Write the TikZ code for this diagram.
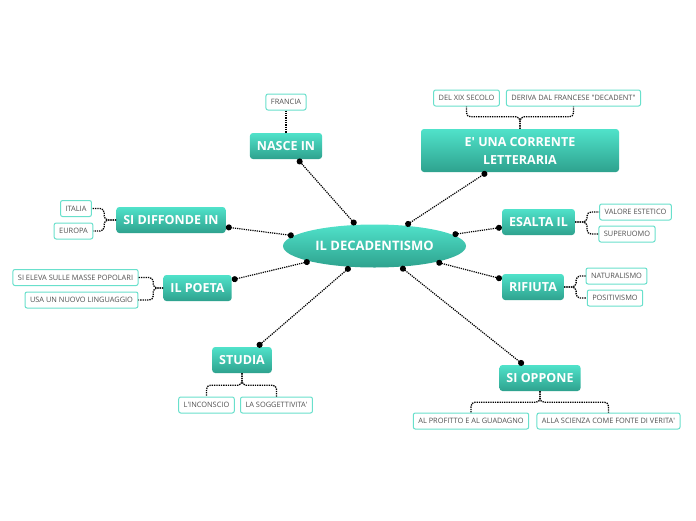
\documentclass[tikz,border=0pt]{standalone}
\usepackage{fontspec}
\setmainfont{Open Sans}
\usepackage{tikz}
\usetikzlibrary{shapes.geometric, arrows.meta}
\definecolor{tealtop}{RGB}{80,226,202}
\definecolor{tealbot}{RGB}{46,162,142}
\definecolor{leafline}{RGB}{105,224,204}
\definecolor{leaftext}{RGB}{80,80,80}
\newcommand{\apo}{\textquotesingle}

\begin{document}
\begin{tikzpicture}[x=1pt, y=-1pt,
  font=\fontsize{7.4}{9}\selectfont,
  topic/.style={ellipse, top color=tealtop, bottom color=tealbot, text=white,
                font=\fontsize{13}{15}\selectfont\bfseries,
                minimum width=183pt, minimum height=43pt},
  branch/.style={rectangle, rounded corners=3pt, top color=tealtop, bottom color=tealbot,
                 text=white, font=\fontsize{12.5}{18}\selectfont\bfseries,
                 minimum height=26pt, inner xsep=7pt, align=center},
  leaf/.style={rectangle, rounded corners=2pt, draw=leafline, line width=1pt, fill=white,
               text=leaftext, minimum height=16pt, inner xsep=5pt, inner ysep=0pt},
  link/.style={densely dotted, line width=1.2pt, {Circle[length=6pt]}-{Circle[length=6pt]}},
  brk/.style={densely dotted, line width=1.3pt, rounded corners=4pt}]

  \fill[white] (0,0) rectangle (696,520);
  \useasboundingbox (0,0) rectangle (696,520);

  % centre
  \node[topic] (center) at (374.5,246) {IL DECADENTISMO};

  % branches
  \node[branch] (nasce) at (286,146) {NASCE IN};
  \node[branch, minimum width=198pt, minimum height=43pt] (corrente) at (520,150.5)
        {E\apo{} UNA CORRENTE\\LETTERARIA};
  \node[branch] (esalta) at (538.5,222) {ESALTA IL};
  \node[branch] (rifiuta) at (533,287) {RIFIUTA};
  \node[branch] (oppone) at (540,378) {SI OPPONE};
  \node[branch] (studia) at (242,360) {STUDIA};
  \node[branch] (poeta) at (197.5,288) {IL POETA};
  \node[branch] (diffonde) at (171,220) {SI DIFFONDE IN};

  \draw[link] (center) -- (nasce);
  \draw[link] (center) -- (corrente);
  \draw[link] (center) -- (esalta);
  \draw[link] (center) -- (rifiuta);
  \draw[link] (center) -- (oppone);
  \draw[link] (center) -- (studia);
  \draw[link] (center) -- (poeta);
  \draw[link] (center) -- (diffonde);

  % leaves
  \node[leaf] (francia) at (286,102) {FRANCIA};
  \node[leaf] (xix) at (466.5,98) {DEL XIX SECOLO};
  \node[leaf] (deriva) at (573.5,98) {DERIVA DAL FRANCESE \textquotedbl DECADENT\textquotedbl};
  \node[leaf] (valore) at (635.5,212) {VALORE ESTETICO};
  \node[leaf] (superuomo) at (627,234) {SUPERUOMO};
  \node[leaf] (naturalismo) at (616.5,276) {NATURALISMO};
  \node[leaf] (positivismo) at (615,298) {POSITIVISMO};
  \node[leaf] (profitto) at (471,421) {AL PROFITTO E AL GUADAGNO};
  \node[leaf] (scienza) at (608.5,421) {ALLA SCIENZA COME FONTE DI VERITA\apo};
  \node[leaf] (inconscio) at (206.5,405) {L\apo INCONSCIO};
  \node[leaf] (soggett) at (276.5,405) {LA SOGGETTIVITA\apo};
  \node[leaf] (eleva) at (75.5,277.5) {SI ELEVA SULLE MASSE POPOLARI};
  \node[leaf] (linguaggio) at (81.5,300) {USA UN NUOVO LINGUAGGIO};
  \node[leaf] (italia) at (76,208.5) {ITALIA};
  \node[leaf] (europa) at (73.5,231) {EUROPA};

  \draw[brk] (francia) -- (nasce);
  \draw[brk] (corrente.north) -- ++(0,-12) -| (xix.south);
  \draw[brk] (corrente.north) -- ++(0,-12) -| (deriva.south);
  \draw[brk] (esalta.east) -- ++(12,0) |- (valore.west);
  \draw[brk] (esalta.east) -- ++(12,0) |- (superuomo.west);
  \draw[brk] (rifiuta.east) -- ++(12,0) |- (naturalismo.west);
  \draw[brk] (rifiuta.east) -- ++(12,0) |- (positivismo.west);
  \draw[brk] (oppone.south) -- ++(0,11) -| (profitto.north);
  \draw[brk] (oppone.south) -- ++(0,11) -| (scienza.north);
  \draw[brk] (studia.south) -- ++(0,12) -| (inconscio.north);
  \draw[brk] (studia.south) -- ++(0,12) -| (soggett.north);
  \draw[brk] (poeta.west) -- ++(-10,0) |- (eleva.east);
  \draw[brk] (poeta.west) -- ++(-10,0) |- (linguaggio.east);
  \draw[brk] (diffonde.west) -- ++(-12,0) |- (italia.east);
  \draw[brk] (diffonde.west) -- ++(-12,0) |- (europa.east);
\end{tikzpicture}
\end{document}
